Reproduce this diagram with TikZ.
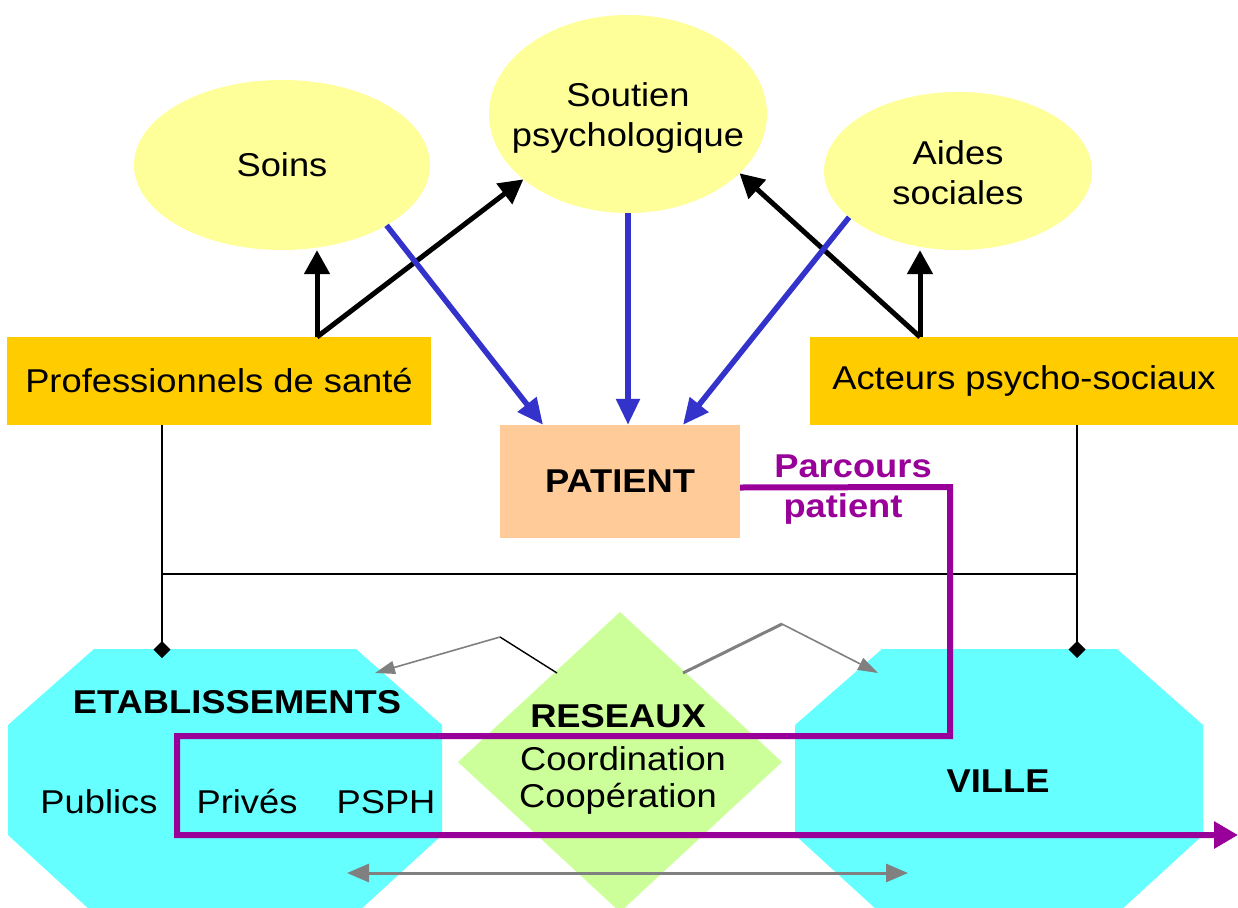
\documentclass[tikz,border=0pt]{standalone}
\usepackage{fontspec}
\setmainfont{Liberation Sans}[FakeStretch=1.1]
\usetikzlibrary{arrows.meta,calc,shapes.geometric}
\definecolor{ellc}{HTML}{FFFF99}
\definecolor{orc}{HTML}{FFCC00}
\definecolor{patc}{HTML}{FFCC99}
\definecolor{cyanc}{HTML}{66FFFF}
\definecolor{greenc}{HTML}{CCFF99}
\definecolor{bluec}{HTML}{3333CC}
\definecolor{purc}{HTML}{990099}
\definecolor{grayc}{HTML}{808080}
\tikzset{
  txt/.style={font=\fontsize{33}{40}\selectfont, inner sep=0pt, align=center},
  btxt/.style={font=\fontsize{33}{40}\selectfont\bfseries, inner sep=0pt, align=center},
  ell/.style={ellipse, fill=ellc, inner sep=0pt},
  orbox/.style={rectangle, fill=orc, inner sep=0pt},
  blk/.style={line width=5pt, -{Triangle[length=24pt,width=25pt]}},
  blu/.style={draw=bluec, line width=5.5pt, -{Triangle[length=26pt,width=23pt]}},
  thin/.style={line width=1.4pt},
  grl/.style={draw=grayc, line width=1.6pt},
  grarrow/.style={draw=grayc, line width=1.6pt, -{Triangle[length=20pt,width=13pt]}},
  pur/.style={draw=purc, line width=6pt, line join=miter},
}
\begin{document}
\begin{tikzpicture}[x=1pt,y=-1pt]
\useasboundingbox (0,0) rectangle (1238,907);
\fill[white] (0,0) rectangle (1238,907);

% ellipses
\node[ell, minimum width=296pt, minimum height=170pt] (soins) at (282,165) {};
\node[ell, minimum width=278pt, minimum height=198pt] (soutien) at (628,114) {};
\node[ell, minimum width=268pt, minimum height=158pt] (aides) at (958,171) {};
\node[txt] (soinsT) at (soins) {Soins};
\node[txt] (soutienT) at ($(soutien)+(0,4)$) {Soutien\\psychologique};
\node[txt] (aidesT) at ($(aides)+(0,1.5)$) {Aides\\sociales};

% boxes
\node[orbox, minimum width=424pt, minimum height=88pt, txt] (pro) at (219,381) {Professionnels de santé};
\node[orbox, minimum width=428pt, minimum height=88pt, txt] (act) at (1024,381) {Acteurs psycho-sociaux};
\node[rectangle, fill=patc, minimum width=240pt, minimum height=113pt, btxt] (patient) at (620,481.5) {PATIENT};

% octagons
\fill[cyanc] (94,649) -- (356,649) -- (442,725) -- (442,835) -- (360,910) -- (90,910) -- (8,835) -- (8,725) -- cycle;
\fill[cyanc] (882,649) -- (1117,649) -- (1203,725) -- (1203,835) -- (1121,910) -- (877,910) -- (795,835) -- (795,725) -- cycle;
% diamond
\fill[greenc] (620,612) -- (782,762) -- (620,912) -- (458,762) -- cycle;

\coordinate (etabtop) at (162,658);
\coordinate (villetop) at (1077,658);
\node[btxt, anchor=base] (etab) at (237,713) {ETABLISSEMENTS};
\node[txt, anchor=base] (publics) at (99,813) {Publics};
\node[txt, anchor=base] (prives) at (247,813) {Privés};
\node[txt, anchor=base] (psph) at (386,813) {PSPH};
\node[btxt, anchor=base] (ville) at (998,792) {VILLE};
\node[btxt, anchor=base] (reseaux) at (618,727) {RESEAUX};
\node[txt, anchor=base] (coord) at (623,770) {Coordination};
\node[txt, anchor=base] (coop) at (618,807) {Coopération};

% black arrows
\coordinate (p1) at (317,337);
\coordinate (p2) at (920,337);
\draw[blk] (p1) -- (p1 |- soins.south);
\draw[blk] (p1) -- (soutien.212);
\draw[blk] (p2) -- (p2 |- aides.south);
\draw[blk] (p2) -- (soutien.332);

% blue arrows
\draw[blu] (soins.330) -- ($(patient.north)+(-77,0)$);
\draw[blu] (soutien.south) -- (soutien.south |- patient.north);
\draw[blu] (aides.203) -- ($(patient.north)+(63,0)$);

% thin black connectors
\draw[thin, -{Diamond[length=17pt,width=17pt]}] (pro.south -| etabtop) -- (etabtop);
\draw[thin, -{Diamond[length=17pt,width=17pt]}] (act.south -| villetop) -- (villetop);
\draw[thin] (162,574) -- (1077,574);

% gray arrows
\coordinate (gl1) at (557,673);
\coordinate (gl2) at (500,637);
\coordinate (gl3) at (375,673);
\coordinate (gr1) at (683,673);
\coordinate (gr2) at (782,624);
\coordinate (gr3) at (878,673);
\draw[thin] (gl1) -- (gl2);
\draw[grarrow] (gl2) -- (gl3);
\draw[grl, line width=3pt] (gr1) -- (gr2);
\draw[grarrow] (gr2) -- (gr3);
\coordinate (bl) at (347,873);
\coordinate (br) at (908,873);
\draw[draw=grayc, line width=3pt, {Triangle[length=22pt,width=18pt]}-{Triangle[length=22pt,width=18pt]}] (bl) -- (br);

% purple path
\coordinate (pend) at (1238,835);
\draw[pur, -{Triangle[length=24pt,width=26pt]}] ([yshift=-6pt]patient.east) -- (950,487) -- (950,736) -- (177,736) -- (177,835) -- (pend);
\node[btxt, text=purc, anchor=base] (parc1) at (853,477) {Parcours};
\node[btxt, text=purc, anchor=base] (parc2) at (843,517) {patient};
\end{tikzpicture}
\end{document}
